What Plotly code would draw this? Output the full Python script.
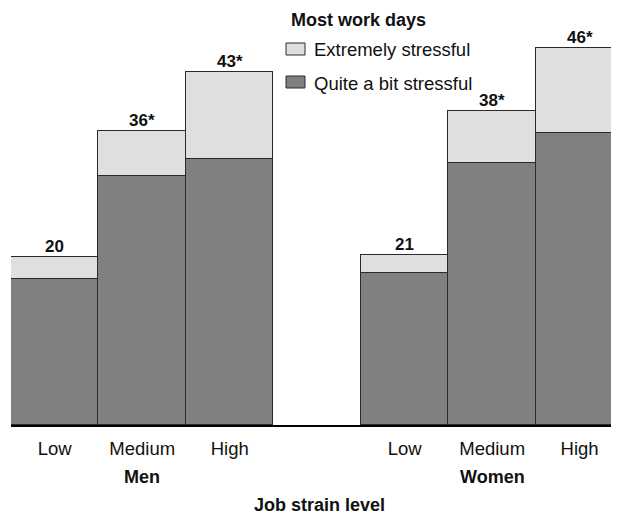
import plotly.graph_objects as go

# Data
levels = ["Low", "Medium", "High"]
groups = ["Men", "Women"]
quite_men = [17.8, 30.4, 32.5]
extreme_men = [2.7, 5.4, 10.6]
quite_women = [18.5, 32.0, 35.6]
extreme_women = [2.2, 6.3, 10.4]
total_labels_men = ["20", "36*", "43*"]
total_labels_women = ["21", "38*", "46*"]

FONT = "Liberation Sans, Arial, sans-serif"
LIGHT = "#dfdfdf"
DARK = "#808080"
EDGE = "#2a2a2a"
TXT = "#111"

# slot positions: Men 0,1,2 ; gap ; Women 4,5,6
xpos = [0, 1, 2, 4, 5, 6]
quite = quite_men + quite_women
extreme = extreme_men + extreme_women
totals = [q + e for q, e in zip(quite, extreme)]
labels = total_labels_men + total_labels_women

fig = go.Figure()
fig.add_trace(go.Bar(x=xpos, y=quite, name="Quite a bit stressful", width=1,
                     marker=dict(color=DARK, line=dict(color=EDGE, width=1))))
fig.add_trace(go.Bar(x=xpos, y=extreme, name="Extremely stressful", width=1,
                     marker=dict(color=LIGHT, line=dict(color=EDGE, width=1))))

# page has an 8px body margin: compensate
OFF = 8
W, H = 619, 516
ml, mt, mr, mb = 11 - OFF, 15 - OFF, OFF, 91 + OFF
pw, ph = W - ml - mr, H - mt - mb


def px(xs):  # screen x -> paper
    return (xs - OFF - ml) / pw


def py(ys):  # screen y -> paper
    return 1 - (ys - OFF - mt) / ph


annotations = []
for x, t, lab in zip(xpos, totals, labels):
    annotations.append(dict(x=x, y=t, xref="x", yref="y", text=f"<b>{lab}</b>",
                            showarrow=False, yanchor="bottom", yshift=-1,
                            font=dict(family=FONT, size=17, color=TXT)))
for gx, g in zip([1, 5], groups):
    annotations.append(dict(x=gx, y=py(477.5), xref="x", yref="paper", text=f"<b>{g}</b>",
                            showarrow=False, yanchor="middle",
                            font=dict(family=FONT, size=18, color=TXT)))
annotations.append(dict(x=px(319), y=py(505), xref="paper", yref="paper",
                        text="<b>Job strain level</b>", showarrow=False, yanchor="middle",
                        font=dict(family=FONT, size=18, color=TXT)))

# manual legend
annotations.append(dict(x=px(289), y=py(20), xref="paper", yref="paper", xanchor="left",
                        yanchor="middle", text="<b>Most work days</b>", showarrow=False,
                        font=dict(family=FONT, size=18, color=TXT)))
legend_items = [("Extremely stressful", LIGHT, 49), ("Quite a bit stressful", DARK, 82)]
shapes = []
for name, col, yc in legend_items:
    shapes.append(dict(type="rect", xref="paper", yref="paper",
                       x0=px(286), x1=px(305), y0=py(yc + 6), y1=py(yc - 6),
                       fillcolor=col, line=dict(color=EDGE, width=1)))
    annotations.append(dict(x=px(312), y=py(yc + 1), xref="paper", yref="paper", xanchor="left",
                            yanchor="middle", text=name, showarrow=False,
                            font=dict(family=FONT, size=18.5, color=TXT)))

fig.update_layout(
    width=W, height=H,
    margin=dict(l=ml, r=mr, t=mt, b=mb),
    barmode="stack", bargap=0,
    paper_bgcolor="white", plot_bgcolor="white",
    showlegend=False,
    font=dict(family=FONT, size=18.5, color=TXT),
    xaxis=dict(range=[-0.5, 6.45], tickvals=xpos, ticktext=levels + levels,
               showgrid=False, zeroline=False, showline=True, linecolor="#000", linewidth=1.5,
               ticks="", ticklabelstandoff=6,
               tickfont=dict(family=FONT, size=18.5, color=TXT)),
    yaxis=dict(range=[0, 50], showgrid=False, zeroline=False, showticklabels=False,
               showline=False, fixedrange=True),
    annotations=annotations, shapes=shapes,
)

fig.write_html("out.html")
